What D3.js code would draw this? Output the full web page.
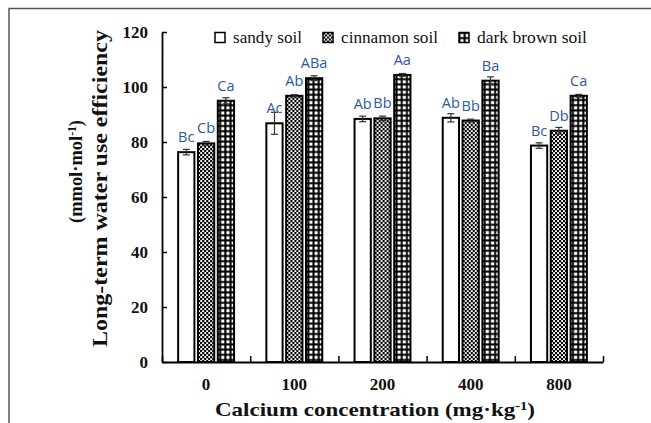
<!DOCTYPE html>
<html>
<head>
<meta charset="utf-8">
<script src="https://cdn.jsdelivr.net/npm/d3@7"></script>
<style>
  body { margin: 0; background: #fff; }
  svg { display: block; }
</style>
</head>
<body>
<div id="chart"></div>
<script>
// chart data
var categories = ["0", "100", "200", "400", "800"];
var seriesNames = ["sandy soil", "cinnamon soil", "dark brown soil"];
var sandy = [76.3, 86.8, 88.4, 88.8, 78.7];
var cinnamon = [79.5, 96.8, 88.6, 87.8, 84.1];
var darkBrown = [95.0, 103.2, 104.4, 102.3, 96.8];
var sandyErr = [1.0, 4.0, 1.0, 1.5, 1.0];
var cinnamonErr = [0.7, 0.4, 0.8, 0.5, 1.2];
var darkBrownErr = [1.1, 0.9, 0.5, 1.4, 0.5];
var sandyLetters = ["Bc", "Ac", "Ab", "Ab", "Bc"];
var cinnamonLetters = ["Cb", "Ab", "Bb", "Bb", "Db"];
var darkBrownLetters = ["Ca", "ABa", "Aa", "Ba", "Ca"];
var yTicks = [0, 20, 40, 60, 80, 100, 120];

var svgWidth = 651;
var svgHeight = 423;
var margin = { top: 32, right: 48, bottom: 61, left: 162 };
var width = svgWidth - margin.left - margin.right;
var height = svgHeight - margin.top - margin.bottom;

var svg = d3.select("#chart")
    .append("svg")
    .attr("width", svgWidth)
    .attr("height", svgHeight);

// fill patterns
var defs = svg.append("defs");
var checker = defs.append("pattern")
    .attr("id", "checker")
    .attr("patternUnits", "userSpaceOnUse")
    .attr("width", 4).attr("height", 4);
checker.append("rect").attr("width", 4).attr("height", 4).attr("fill", "#fff");
checker.append("rect").attr("width", 2.2).attr("height", 2.2).attr("fill", "#000");
checker.append("rect").attr("x", 2).attr("y", 2).attr("width", 2.2).attr("height", 2.2).attr("fill", "#000");

var grid = defs.append("pattern")
    .attr("id", "grid")
    .attr("patternUnits", "userSpaceOnUse")
    .attr("width", 5.2).attr("height", 5.2);
grid.append("rect").attr("width", 5.2).attr("height", 5.2).attr("fill", "#000");
grid.append("rect").attr("x", 1.4).attr("y", 1.4).attr("width", 3.2).attr("height", 3.2).attr("fill", "#fff");

var fills = ["#fff", "url(#checker)", "url(#grid)"];

// frame lines of the screenshot
svg.append("line").attr("x1", 8.5).attr("x2", svgWidth).attr("y1", 8.5).attr("y2", 8.5)
    .attr("stroke", "#555").attr("stroke-width", 1.5);
svg.append("line").attr("x1", 9).attr("x2", 9).attr("y1", 8.5).attr("y2", svgHeight)
    .attr("stroke", "#555").attr("stroke-width", 1.5);

var chartGroup = svg.append("g")
    .attr("transform", `translate(${margin.left},${margin.top})`);

var rows = categories.map(function(c, i) {
    return {
        cat: c,
        vals: [
            { s: 0, v: sandy[i], e: sandyErr[i], l: sandyLetters[i] },
            { s: 1, v: cinnamon[i], e: cinnamonErr[i], l: cinnamonLetters[i] },
            { s: 2, v: darkBrown[i], e: darkBrownErr[i], l: darkBrownLetters[i] }
        ]
    };
});

var x0 = d3.scaleBand()
    .domain(categories)
    .range([0, width])
    .paddingInner(0.366)
    .paddingOuter(0.183);
var x1 = d3.scaleBand()
    .domain([0, 1, 2])
    .range([0, x0.bandwidth()])
    .paddingInner(0.18);
var yScale = d3.scaleLinear()
    .domain([0, 120])
    .range([height, 0]);

// bars
var groups = chartGroup.selectAll(".grp")
    .data(rows)
    .enter()
    .append("g")
    .attr("transform", d => `translate(${x0(d.cat)},0)`);

groups.selectAll("rect")
    .data(d => d.vals)
    .enter()
    .append("rect")
    .attr("x", d => x1(d.s))
    .attr("y", d => yScale(d.v))
    .attr("width", x1.bandwidth())
    .attr("height", d => height - yScale(d.v))
    .attr("fill", d => fills[d.s])
    .attr("stroke", "#000")
    .attr("stroke-width", 2);

// error bars
var err = groups.selectAll(".err")
    .data(d => d.vals)
    .enter()
    .append("g")
    .attr("stroke", "#333")
    .attr("stroke-width", 1.2);
err.append("line")
    .attr("x1", d => x1(d.s) + x1.bandwidth() / 2)
    .attr("x2", d => x1(d.s) + x1.bandwidth() / 2)
    .attr("y1", d => yScale(d.v - d.e))
    .attr("y2", d => yScale(d.v + d.e));
err.append("line")
    .attr("x1", d => x1(d.s) + x1.bandwidth() / 2 - 3.5)
    .attr("x2", d => x1(d.s) + x1.bandwidth() / 2 + 3.5)
    .attr("y1", d => yScale(d.v + d.e))
    .attr("y2", d => yScale(d.v + d.e));
err.append("line")
    .attr("x1", d => x1(d.s) + x1.bandwidth() / 2 - 3.5)
    .attr("x2", d => x1(d.s) + x1.bandwidth() / 2 + 3.5)
    .attr("y1", d => yScale(d.v - d.e))
    .attr("y2", d => yScale(d.v - d.e));

// significance letters
groups.selectAll(".sig")
    .data(d => d.vals)
    .enter()
    .append("text")
    .attr("x", d => x1(d.s) + x1.bandwidth() / 2)
    .attr("y", d => yScale(d.v) - 10)
    .attr("text-anchor", "middle")
    .style("font-family", "'Open Sans', sans-serif")
    .style("font-size", "14.5px")
    .style("fill", "#2c589e")
    .text(d => d.l);

// axes
var yAxis = d3.axisLeft(yScale)
    .tickValues(yTicks)
    .tickSizeInner(-5)
    .tickSizeOuter(0)
    .tickPadding(14);
var yG = chartGroup.append("g").call(yAxis);

var edge = d3.scaleLinear().domain([0, categories.length]).range([0, width]);
var xEdgeAxis = d3.axisBottom(edge)
    .ticks(categories.length)
    .tickSizeInner(-6)
    .tickSizeOuter(0)
    .tickFormat("");
var xG = chartGroup.append("g")
    .attr("transform", `translate(0,${height})`)
    .call(xEdgeAxis);

var xLabelAxis = d3.axisBottom(x0).tickSize(0).tickPadding(16);
var xL = chartGroup.append("g")
    .attr("transform", `translate(0,${height})`)
    .call(xLabelAxis);
xL.select(".domain").remove();

[yG, xG].forEach(function(g) {
    g.select(".domain").attr("stroke", "#000").attr("stroke-width", 1.8);
    g.selectAll(".tick line").attr("stroke", "#000").attr("stroke-width", 1.5);
});
[yG, xL].forEach(function(g) {
    g.selectAll(".tick text")
        .style("font-family", "'Liberation Serif', 'Times New Roman', serif")
        .style("font-weight", "bold")
        .style("font-size", "17px")
        .style("fill", "#111");
});

// axis titles
var serif = "'Liberation Serif', 'Times New Roman', serif";
var xTitle = svg.append("text")
    .attr("x", 215)
    .attr("y", 416)
    .attr("textLength", 320)
    .attr("lengthAdjust", "spacingAndGlyphs")
    .style("font-family", serif)
    .style("font-weight", "bold")
    .style("font-size", "19px")
    .style("fill", "#111");
xTitle.append("tspan").text("Calcium concentration (mg·kg");
xTitle.append("tspan").attr("dy", -6).style("font-size", "12px").text("-1");
xTitle.append("tspan").attr("dy", 6).text(")");

svg.append("text")
    .attr("transform", "translate(107,188.5) rotate(-90)")
    .attr("text-anchor", "middle")
    .attr("textLength", 317)
    .attr("lengthAdjust", "spacingAndGlyphs")
    .style("font-family", serif)
    .style("font-weight", "bold")
    .style("font-size", "20px")
    .style("fill", "#111")
    .text("Long-term water use efficiency");

var yTitle2 = svg.append("text")
    .attr("transform", "translate(82,171.5) rotate(-90)")
    .attr("text-anchor", "middle")
    .attr("textLength", 103)
    .attr("lengthAdjust", "spacingAndGlyphs")
    .style("font-family", serif)
    .style("font-weight", "bold")
    .style("font-size", "19px")
    .style("fill", "#111");
yTitle2.append("tspan").text("(mmol·mol");
yTitle2.append("tspan").attr("dy", -6).style("font-size", "12px").text("-1");
yTitle2.append("tspan").attr("dy", 6).text(")");

// legend
var legendX = [215, 323, 459];
var legendW = [69, 97, 110];
var legend = svg.selectAll(".legend")
    .data(seriesNames)
    .enter()
    .append("g")
    .attr("transform", (d, i) => `translate(${legendX[i]},32.5)`);
legend.append("rect")
    .attr("width", 10)
    .attr("height", 10)
    .attr("fill", (d, i) => fills[i])
    .attr("stroke", "#000")
    .attr("stroke-width", 1.5);
legend.append("text")
    .attr("x", 18)
    .attr("y", 10)
    .attr("textLength", (d, i) => legendW[i])
    .attr("lengthAdjust", "spacingAndGlyphs")
    .style("font-family", serif)
    .style("font-size", "16px")
    .style("fill", "#111")
    .text(d => d);
</script>
</body>
</html>
